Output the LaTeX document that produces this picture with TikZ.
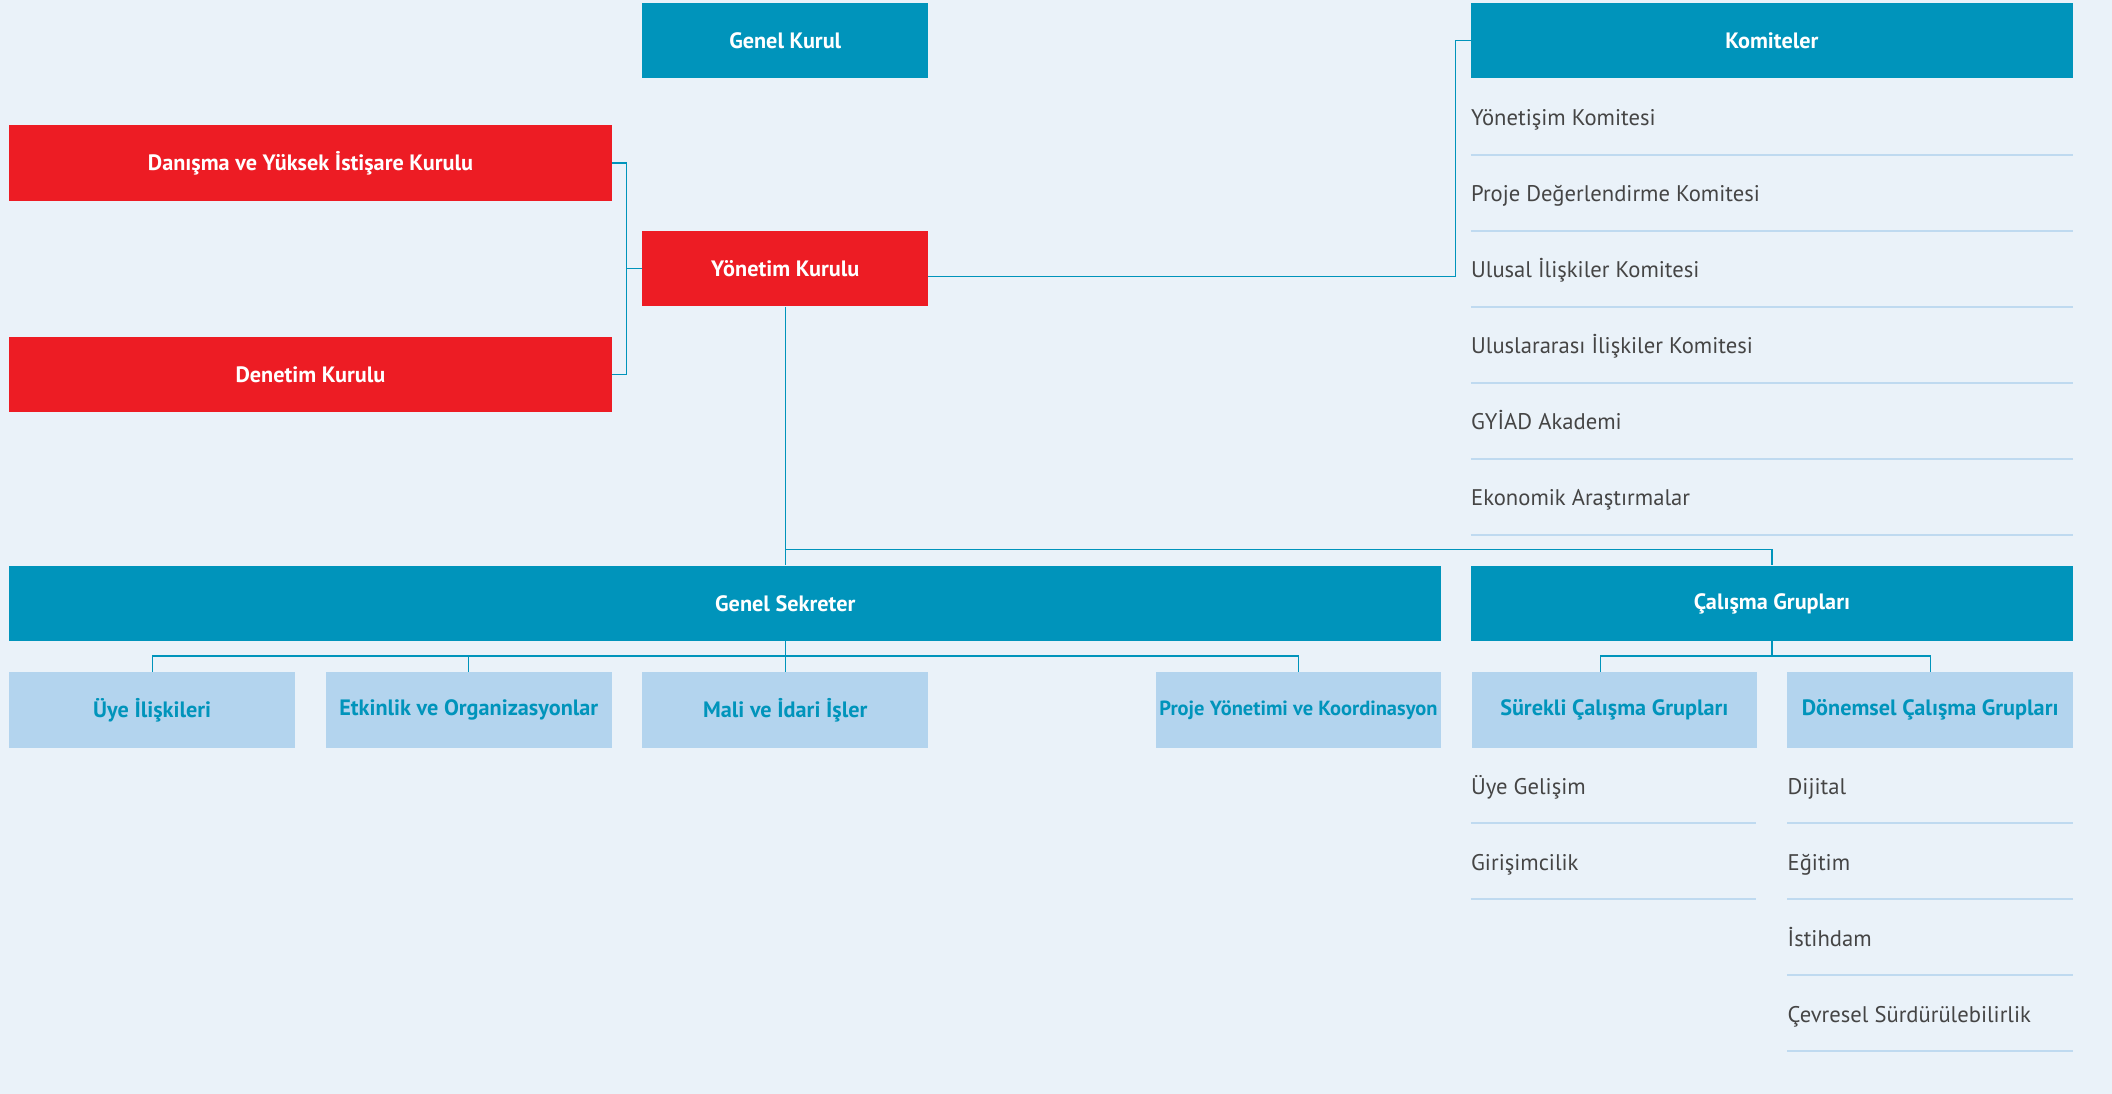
\documentclass[tikz,border=0pt]{standalone}
\usepackage{fontspec}
\setmainfont{PT Sans}
\definecolor{bgcol}{HTML}{EAF2F9}
\definecolor{tealcol}{HTML}{0094BB}
\definecolor{redcol}{HTML}{ED1C24}
\definecolor{palecol}{HTML}{B3D4EE}
\definecolor{rulecol}{HTML}{BFDAF0}
\definecolor{itemcol}{HTML}{454545}
\begin{document}
\begin{tikzpicture}[
            x=1pt, y=-1pt,
            box/.style={minimum width=212pt, minimum height=56pt, inner sep=0pt,
                font=\fontsize{16.5}{18}\selectfont\bfseries, text=white},
            mainbox/.style={box, fill=tealcol},
            redbox/.style={box, fill=redcol},
            subbox/.style={box, fill=palecol, text=tealcol},
            item/.style={anchor=base west, inner sep=0pt, text=itemcol,
                font=\fontsize{16.8}{18}\selectfont},
            link/.style={draw=tealcol, line width=0.9pt},
            rule/.style={draw=rulecol, line width=1.2pt}
        ]
            \fill[bgcol] (0,0) rectangle (1568,812);
            % top level
            \node[mainbox] (gk) at (583,30) {Genel Kurul};
            \node[redbox, minimum width=447pt] (dan) at (230.5,121) {Danışma ve Yüksek İstişare Kurulu};
            \node[redbox, minimum width=447pt] (den) at (230.5,278) {Denetim Kurulu};
            \node[redbox] (yk) at (583,199.5) {Yönetim Kurulu};
            \node[mainbox, minimum width=447pt] (kom) at (1315.5,30) {Komiteler};
            % committees
            \foreach \t [count=\i] in {Yönetişim Komitesi, Proje Değerlendirme Komitesi,
                Ulusal İlişkiler Komitesi, Uluslararası İlişkiler Komitesi,
                GYİAD Akademi, Ekonomik Araştırmalar} {
                \node[item] (kom\i) at (1092,36.9+56.4*\i) {\t};
                \draw[rule] (1092,58.6+56.4*\i) -- (1539,58.6+56.4*\i);
            }
            % second level
            \node[mainbox, minimum width=1063pt] (gs) at (538.5,448) {};
            \node[box] (gst) at (583,448) {Genel Sekreter};
            \node[mainbox, minimum width=447pt] (cg) at (1315.5,448) {Çalışma Grupları};
            \node[subbox] (uye) at (113,527) {Üye İlişkileri};
            \node[subbox] (etk) at (348,527) {Etkinlik ve Organizasyonlar};
            \node[subbox] (mali) at (583,527) {Mali ve İdari İşler};
            \node[subbox, font=\fontsize{15.2}{17}\selectfont\bfseries] (proje) at (964,527) {Proje Yönetimi ve Koordinasyon};
            \node[subbox] (sur) at (1198.5,527) {Sürekli Çalışma Grupları};
            \node[subbox] (don) at (1433,527) {Dönemsel Çalışma Grupları};
            % working groups
            \foreach \t [count=\i] in {Üye Gelişim, Girişimcilik} {
                \node[item] (sur\i) at (1092,533.3+56.4*\i) {\t};
                \draw[rule] (1092,554.6+56.4*\i) -- (1304,554.6+56.4*\i);
            }
            \foreach \t [count=\i] in {Dijital, Eğitim, İstihdam, Çevresel Sürdürülebilirlik} {
                \node[item] (don\i) at (1327,533.3+56.4*\i) {\t};
                \draw[rule] (1327,554.6+56.4*\i) -- (1539,554.6+56.4*\i);
            }
            % connectors
            \coordinate (jl) at (465,199.5);
            \coordinate (jm) at (583,408);
            \coordinate (js) at (583,487);
            \coordinate (jc) at (1315.5,487);
            \draw[link] (dan.east) -| (jl) |- (den.east);
            \draw[link] (yk.west) -- (jl);
            \draw[link] ([yshift=-6pt]yk.east) -| ([xshift=-11pt]kom.west) -- (kom.west);
            \draw[link] (yk.south) -- (yk.south |- gs.north);
            \draw[link] (jm) -| (cg.north);
            \draw[link] (yk.south |- gs.south) -- (js);
            \foreach \n in {uye,etk,mali,proje}
                \draw[link] (js) -| (\n.north);
            \draw[link] (cg.south) -- (jc);
            \draw[link] (jc) -| ([xshift=-10.5pt]sur.north);
            \draw[link] (jc) -| (don.north);
        \end{tikzpicture}
\end{document}
